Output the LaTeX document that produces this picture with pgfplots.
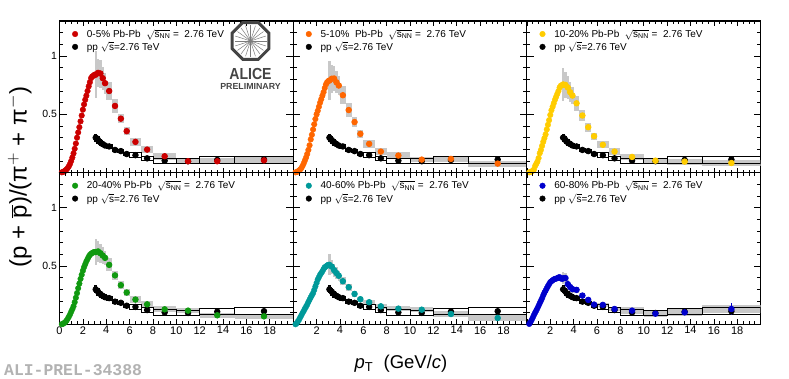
\documentclass[border=0pt]{standalone}
\usepackage{fontspec}
\setmainfont{Liberation Sans}
\newfontfamily\monofam{Liberation Mono}
\usepackage{pgfplots}
\usepackage{pgfplotstable}
\pgfplotsset{compat=1.18}

\definecolor{cA}{HTML}{CC0000}
\definecolor{cB}{HTML}{FF6600}
\definecolor{cC}{HTML}{FFCC00}
\definecolor{cD}{HTML}{109910}
\definecolor{cE}{HTML}{009999}
\definecolor{cF}{HTML}{0000CC}
\definecolor{sysgray}{HTML}{C8C8C8}
\definecolor{logogray}{HTML}{444444}

% low pT Pb-Pb points, one column per centrality
\pgfplotstableread{
x   a    b    c    d    e    f
0.2 .003 .003 .003 .002 .001 .004
0.3 .006 .006 .006 .005 .010 .020
0.4 .012 .011 .010 .012 .025 .037
0.5 .018 .018 .017 .020 .040 .058
0.6 .028 .028 .027 .032 .060 .080
0.7 .040 .040 .057 .048 .078 .100
0.8 .055 .058 .075 .066 .098 .118
0.9 .075 .080 .095 .085 .115 .138
1.0 .100 .105 .125 .108 .135 .160
1.1 .130 .130 .167 .130 .152 .182
1.2 .165 .160 .195 .155 .170 .203
1.3 .205 .195 .230 .190 .192 .224
1.4 .250 .235 .265 .228 .212 .250
1.5 .300 .285 .296 .268 .232 .272
1.6 .345 .325 .328 .310 .250 .290
1.7 .390 .370 .370 .350 .268 .310
1.8 .440 .415 .410 .390 .295 .328
1.9 .490 .460 .450 .425 .325 .345
2.0 .540 .500 .495 .460 .355 .362
2.1 .585 .530 .535 .490 .385 .370
2.2 .625 .565 .565 .515 .405 .378
2.3 .660 .600 .595 .540 .425 .385
2.4 .700 .630 .625 .560 .440 .390
2.5 .740 .660 .650 .580 .455 .392
2.6 .775 .690 .675 .595 .474 .396
2.7 .810 .725 .700 .605 .490 .402
2.8 .825 .756 .730 .612 .495 .405
2.9 .830 .775 .745 .618 .505 .395
3.0 .840 .785 .750 .620 .510 .390
}\lowtab

\pgfplotstableread{
x    xl  xr  y    e    s
3.1  3   3.2 .300 .004 .030
3.3  3.2 3.4 .280 .004 .028
3.5  3.4 3.6 .260 .004 .025
3.7  3.6 3.8 .245 .004 .022
3.9  3.8 4   .233 .004 .020
4.25 4   4.5 .225 .004 .018
4.75 4.5 5   .195 .004 .015
5.25 5   5.5 .185 .004 .014
5.75 5.5 6   .160 .004 .012
6.5  6   7   .150 .004 .020
7.5  7   8   .123 .005 .020
9    8   10  .103 .006 .023
11   10  12  .098 .008 .023
13.5 12  15  .109 .010 .028
17.5 15  20  .113 .022 .030
}\pptab

\pgfplotstableread{
x    xl  xr  y    e    s
3.1  3   3.2 .840 .004 .200
3.3  3.2 3.4 .855 .004 .120
3.5  3.4 3.6 .850 .004 .120
3.7  3.6 3.8 .810 .004 .100
3.9  3.8 4   .767 .004 .090
4.25 4   4.5 .700 .004 .080
4.75 4.5 5   .572 .004 .060
5.25 5   5.5 .463 .004 .040
5.75 5.5 6   .356 .004 .035
6.5  6   7   .264 .004 .035
7.5  7   8   .198 .005 .030
9    8   10  .141 .006 .030
11   10  12  .098 .008 .022
13.5 12  15  .098 .010 .025
17.5 15  20  .106 .015 .030
}\tabA

\pgfplotstableread{
x    xl  xr  y    e    s
3.1  3   3.2 .790 .004 .170
3.3  3.2 3.4 .805 .004 .120
3.5  3.4 3.6 .807 .004 .110
3.7  3.6 3.8 .775 .004 .095
3.9  3.8 4   .747 .004 .085
4.25 4   4.5 .664 .004 .075
4.75 4.5 5   .537 .004 .060
5.25 5   5.5 .434 .004 .040
5.75 5.5 6   .333 .004 .033
6.5  6   7   .247 .004 .032
7.5  7   8   .181 .005 .030
9    8   10  .147 .006 .030
11   10  12  .112 .008 .024
13.5 12  15  .118 .010 .026
17.5 15  20  .078 .015 .025
}\tabB

\pgfplotstableread{
x    xl  xr  y    e    s
3.1  3   3.2 .756 .004 .140
3.3  3.2 3.4 .752 .004 .110
3.5  3.4 3.6 .730 .004 .100
3.7  3.6 3.8 .690 .004 .085
3.9  3.8 4   .661 .004 .075
4.25 4   4.5 .595 .004 .065
4.75 4.5 5   .490 .004 .050
5.25 5   5.5 .390 .004 .038
5.75 5.5 6   .313 .004 .030
6.5  6   7   .239 .004 .030
7.5  7   8   .181 .005 .028
9    8   10  .135 .006 .028
11   10  12  .103 .008 .022
13.5 12  15  .095 .010 .025
17.5 15  20  .083 .015 .025
}\tabC

\pgfplotstableread{
x    xl  xr  y    e    s
3.1  3   3.2 .620 .004 .115
3.3  3.2 3.4 .625 .004 .090
3.5  3.4 3.6 .610 .004 .080
3.7  3.6 3.8 .590 .004 .070
3.9  3.8 4   .570 .004 .060
4.25 4   4.5 .510 .004 .055
4.75 4.5 5   .420 .004 .040
5.25 5   5.5 .336 .004 .033
5.75 5.5 6   .273 .004 .027
6.5  6   7   .213 .004 .027
7.5  7   8   .172 .005 .026
9    8   10  .129 .006 .026
11   10  12  .118 .008 .022
13.5 12  15  .078 .010 .022
17.5 15  20  .069 .015 .022
}\tabD

\pgfplotstableread{
x    xl  xr  y    e    s
3.1  3   3.2 .510 .004 .090
3.3  3.2 3.4 .495 .004 .060
3.5  3.4 3.6 .465 .004 .055
3.7  3.6 3.8 .440 .004 .048
3.9  3.8 4   .417 .004 .042
4.25 4   4.5 .370 .004 .036
4.75 4.5 5   .319 .004 .030
5.25 5   5.5 .261 .004 .026
5.75 5.5 6   .216 .004 .022
6.5  6   7   .190 .005 .022
7.5  7   8   .155 .006 .022
9    8   10  .135 .008 .024
11   10  12  .126 .010 .022
13.5 12  15  .089 .012 .022
17.5 15  20  .055 .020 .022
}\tabE

\pgfplotstableread{
x    xl  xr  y    e    s
3.1  3   3.2 .395 .006 .050
3.3  3.2 3.4 .397 .006 .040
3.5  3.4 3.6 .345 .006 .035
3.7  3.6 3.8 .320 .006 .032
3.9  3.8 4   .302 .006 .030
4.25 4   4.5 .296 .006 .025
4.75 4.5 5   .247 .006 .020
5.25 5   5.5 .210 .006 .018
5.75 5.5 6   .170 .007 .015
6.5  6   7   .167 .008 .018
7.5  7   8   .132 .008 .018
9    8   10  .118 .010 .028
11   10  12  .092 .014 .028
13.5 12  15  .103 .018 .030
17.5 15  20  .132 .050 .038
}\tabF

% one box per bin, centred on y with half height s
\newcommand{\sysboxes}[2]{%
  \pgfplotstablegetrowsof{#1}%
  \pgfmathtruncatemacro\lastrow{\pgfplotsretval-1}%
  \foreach \r in {0,...,\lastrow}{%
    \pgfplotstablegetelem{\r}{xl}\of{#1}\let\xa\pgfplotsretval
    \pgfplotstablegetelem{\r}{xr}\of{#1}\let\xb\pgfplotsretval
    \pgfplotstablegetelem{\r}{y}\of{#1}\let\yc\pgfplotsretval
    \pgfplotstablegetelem{\r}{s}\of{#1}\let\ys\pgfplotsretval
    \pgfmathsetmacro\ya{\yc-\ys}%
    \pgfmathsetmacro\yb{\yc+\ys}%
    \edef\tmp{\noexpand\addplot[forget plot,#2] coordinates {(\xa,\ya)(\xb,\ya)(\xb,\yb)(\xa,\yb)} -- cycle;}%
    \tmp
  }%
}

\pgfplotsset{
  panel/.style={
    scale only axis, width=233.7pt, height=151.7pt,
    xmin=0, xmax=20, ymin=0, ymax=1.3,
    axis line style={line width=1.1pt},
    tick style={black, line width=0.7pt},
    tick align=inside, ticks=both,
    major tick length=7pt, minor tick length=3.5pt,
    xtick style={/pgfplots/major tick length=5pt, /pgfplots/minor tick length=3pt},
    xtick={0,2,...,20},
    minor xtick={0.5,1,...,19.5},
    ytick={0,0.5,1},
    minor ytick={0.1,0.2,0.3,0.4,0.6,0.7,0.8,0.9,1.1,1.2},
    xticklabels={}, yticklabels={},
    x tick label style={font=\fontsize{11}{11}\selectfont, yshift=1.5pt},
    y tick label style={font=\fontsize{10.5}{10.5}\selectfont, xshift=1pt},
    legend cell align=left,
    legend style={at={(12.8pt,143.3pt)}, anchor=north west, draw=none, fill=none,
      font=\fontsize{10}{10}\selectfont, inner sep=0pt, outer sep=0pt,
      row sep=3.2pt, nodes={inner sep=0pt},
      /tikz/every odd column/.style={column sep=9pt}},
  },
  leftcol/.style={yticklabels={,0.5,1}},
  firstx/.style={xticklabels={0,2,4,6,8,10,12,14,16,18,}},
  otherx/.style={xticklabels={,2,4,6,8,10,12,14,16,18,}},
  ptmark/.style={only marks, mark=*, mark size=2.8pt, color=#1,
    mark options={draw=#1, fill=#1}, line width=0.8pt,
    error bars/.cd, y dir=both, y explicit,
    error bar style={color=#1, line width=1pt}, error mark=none},
}

% #1 position, #2 extra axis keys, #3 low column, #4 table, #5 colour, #6 label
\newcommand{\panel}[6]{%
  \begin{axis}[panel, at={#1}, anchor=south west, #2]
    \addlegendimage{only marks, mark=*, mark size=2.8pt, color=#5}
    \addlegendentry{#6}
    \addlegendimage{only marks, mark=*, mark size=2.8pt, color=black}
    \addlegendentry{pp $\sqrt{\mathrm{s}}$=2.76 TeV}
    \sysboxes{#4}{fill=sysgray, draw=none}
    \sysboxes{\pptab}{draw=black, line width=0.9pt, fill=none}
    \addplot[forget plot, ptmark=black] table[x=x, y=y, y error=e] {\pptab};
    \addplot[forget plot, only marks, mark=*, mark size=2.8pt, color=#5] table[x=x, y=#3] {\lowtab};
    \addplot[forget plot, ptmark=#5] table[x=x, y=y, y error=e] {#4};
  \end{axis}%
}

\newcommand{\snn}{$\sqrt{\mathrm{s}_{\mathrm{NN}}}$ = \ 2.76 TeV}

\begin{document}
\begin{tikzpicture}[x=1pt, y=1pt]
  \useasboundingbox (0,0) rectangle (789,379);

  \panel{(59.5pt,206.3pt)}{leftcol}{a}{\tabA}{cA}{0-5\% Pb-Pb \ \snn}
  \panel{(293.2pt,206.3pt)}{}{b}{\tabB}{cB}{5-10\% \ Pb-Pb \ \snn}
  \panel{(526.9pt,206.3pt)}{}{c}{\tabC}{cC}{10-20\% Pb-Pb \ \snn}
  \panel{(59.5pt,54.6pt)}{leftcol, firstx}{d}{\tabD}{cD}{20-40\% Pb-Pb \ \snn}
  \panel{(293.2pt,54.6pt)}{otherx}{e}{\tabE}{cE}{40-60\% Pb-Pb \ \snn}
  \panel{(526.9pt,54.6pt)}{otherx}{f}{\tabF}{cF}{60-80\% Pb-Pb \ \snn}

  % axis titles
  \node[rotate=90, font=\fontsize{24}{24}\selectfont] at (19.5,202)
    {(p + $\overline{\mathrm{p}}$)/(π$^{+}$ + π$^{-}$)};
  \node[font=\fontsize{18.5}{18.5}\selectfont] at (401,15)
    {\textit{p}$_{\mathrm{T}}$ \ (GeV/\textit{c})};
  \node[anchor=west, inner sep=0pt, font=\fontsize{16.4}{16.4}\monofam\bfseries\selectfont, text=black!30] at (4,9)
    {ALI-PREL-34388};

  % ALICE logo
  \begin{scope}[shift={(250.5,338)}]
    \foreach \a in {0,18,...,342}
      \draw[logogray!70, line width=0.5pt] (0,0) -- (\a:16);
    \draw[logogray, line width=3pt] (22.5:20) -- (67.5:20) -- (112.5:20) -- (157.5:20)
      -- (202.5:20) -- (247.5:20) -- (292.5:20) -- (337.5:20) -- cycle;
    \node[xscale=0.88, text=logogray, font=\fontsize{16}{16}\selectfont\bfseries] at (0,-33) {ALICE};
    \node[text=logogray, font=\fontsize{8.8}{8.8}\selectfont\bfseries] at (0,-45) {PRELIMINARY};
  \end{scope}
\end{tikzpicture}
\end{document}
